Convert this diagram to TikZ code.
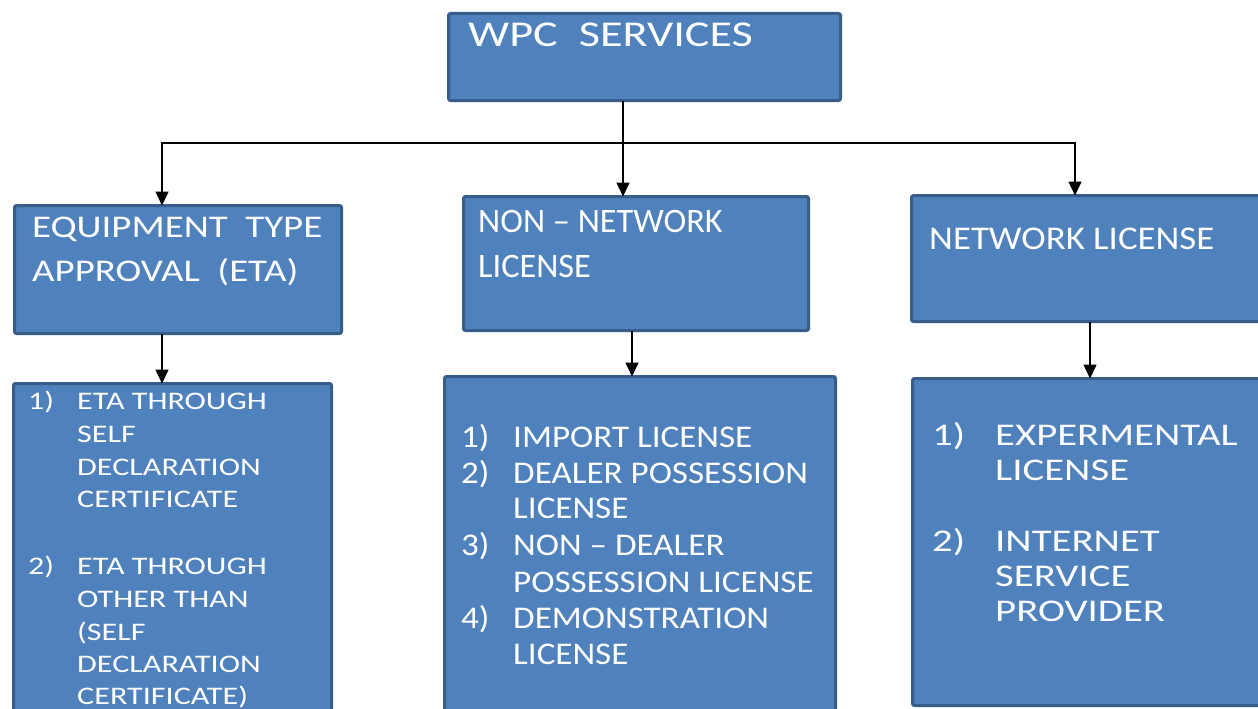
\documentclass[tikz,border=0pt]{standalone}
\usepackage{fontspec}
\setmainfont{Carlito}
\newfontfamily\fwpc[FakeStretch=1.27]{Carlito}
\newfontfamily\feta[FakeStretch=1.23]{Carlito}
\newfontfamily\fnon{Carlito}
\newfontfamily\fnet[FakeStretch=1.11]{Carlito}
\newfontfamily\fla[FakeStretch=1.27]{Carlito}
\newfontfamily\flb[FakeStretch=1.11]{Carlito}
\newfontfamily\flc[FakeStretch=1.29]{Carlito}
\usetikzlibrary{arrows.meta}
\definecolor{boxfill}{HTML}{4F81BD}
\definecolor{boxline}{HTML}{385D8A}
\begin{document}
\begin{tikzpicture}[x=1pt,y=-1pt,
  box/.style={draw=boxline, fill=boxfill, line width=3pt, rounded corners=2pt, inner sep=0pt, outer sep=0pt, anchor=north west, rectangle},
  txt/.style={text=white, inner sep=0pt, anchor=base west},
  conn/.style={line width=1.5pt, draw=black},
  arr/.style={conn, -{Triangle[width=13pt,length=14pt]}}]
\useasboundingbox (0,0) rectangle (1258,709);
\clip (0,0) rectangle (1258,709);

% boxes
\node[box, minimum width=392pt, minimum height=87pt] (wpc) at (448.5,13.5) {};
\node[box, minimum width=327pt, minimum height=128pt] (eta) at (14.5,205.5) {};
\node[box, minimum width=345pt, minimum height=134pt] (non) at (463.5,196.5) {};
\node[box, minimum width=400pt, minimum height=126pt] (net) at (911.5,195.5) {};
\node[box, minimum width=318pt, minimum height=400pt] (la) at (13.5,383.5) {};
\node[box, minimum width=391pt, minimum height=400pt] (lb) at (444.5,376.5) {};
\node[box, minimum width=400pt, minimum height=327pt] (lc) at (912.5,378.5) {};

% connectors
\coordinate (j) at (623,143);
\coordinate (jl) at (162,143);
\coordinate (jr) at (1075,143);
\coordinate (xa) at (162,360);
\coordinate (xb) at (632,360);
\coordinate (xc) at (1090,360);
\draw[conn] (wpc.south -| j) -- (j);
\draw[arr] (j) -- (non.north -| j);
\draw[arr] (j) -- (jl) -- (eta.north -| jl);
\draw[arr] (j) -- (jr) -- (net.north -| jr);
\draw[arr] (eta.south -| xa) -- (la.north -| xa);
\draw[arr] (non.south -| xb) -- (lb.north -| xb);
\draw[arr] (net.south -| xc) -- (lc.north -| xc);

% titles
\node[txt, font=\fwpc\fontsize{36.4}{40}\selectfont] (twpc) at (468,47) {WPC\ \ SERVICES};
\node[txt, font=\feta\fontsize{31.6}{40}\selectfont] (teta1) at (32,237) {EQUIPMENT\ \ TYPE};
\node[txt, font=\feta\fontsize{31.6}{40}\selectfont] (teta2) at (32,281) {APPROVAL\ \ (ETA)};
\node[txt, font=\fnon\fontsize{34.3}{40}\selectfont] (tnon1) at (478,232) {NON – NETWORK};
\node[txt, font=\fnon\fontsize{34.3}{40}\selectfont] (tnon2) at (478,277) {LICENSE};
\node[txt, font=\fnet\fontsize{33.2}{40}\selectfont] (tnet) at (929,249) {NETWORK LICENSE};

% list 1
\node[txt, font=\fla\fontsize{25.3}{30}\selectfont] (na1) at (28,409) {1)};
\node[txt, font=\fla\fontsize{25.3}{30}\selectfont] (na2) at (28,574) {2)};
\foreach \yy/\tt [count=\i] in {409/ETA THROUGH, 442/SELF, 475/DECLARATION, 507/CERTIFICATE,
  574/ETA THROUGH, 607/OTHER THAN, 640/(SELF, 672/DECLARATION, 704/CERTIFICATE)}
  \node[txt, font=\fla\fontsize{25.3}{30}\selectfont] (ta\i) at (77,\yy) {\tt};

% list 2
\foreach \yy/\nn [count=\i] in {447/1), 483/2), 555/3), 628/4)}
  \node[txt, font=\flb\fontsize{31.6}{36}\selectfont] (nb\i) at (461,\yy) {\nn};
\foreach \yy/\tt [count=\i] in {447/IMPORT LICENSE, 483/DEALER POSSESSION, 518/LICENSE,
  555/NON – DEALER, 592/POSSESSION LICENSE, 628/DEMONSTRATION, 664/LICENSE}
  \node[txt, font=\flb\fontsize{31.6}{36}\selectfont] (tb\i) at (513,\yy) {\tt};

% list 3
\foreach \yy/\nn [count=\i] in {445/1), 551/2)}
  \node[txt, font=\flc\fontsize{31.6}{36}\selectfont] (nc\i) at (932,\yy) {\nn};
\foreach \yy/\tt [count=\i] in {445/EXPERMENTAL, 480/LICENSE, 551/INTERNET, 586/SERVICE, 621/PROVIDER}
  \node[txt, font=\flc\fontsize{31.6}{36}\selectfont] (tc\i) at (995,\yy) {\tt};
\end{tikzpicture}
\end{document}
